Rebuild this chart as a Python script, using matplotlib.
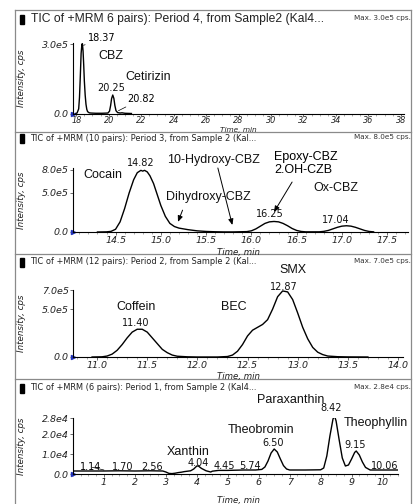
import matplotlib
matplotlib.use("Agg")
import matplotlib.pyplot as plt
from matplotlib.lines import Line2D
from matplotlib.patches import Rectangle
from matplotlib.ticker import MultipleLocator

W, H = 415, 504

# ---- data (intensities) ----
# period 4
t4 = [17.95, 18.05, 18.15, 18.20, 18.25, 18.30, 18.35, 18.38, 18.42, 18.46, 18.50, 18.55,
      18.60, 18.65, 18.70, 18.80, 18.90, 19.2, 19.6, 19.95, 20.05, 20.12, 20.18, 20.25,
      20.32, 20.38, 20.45, 20.55, 20.7, 20.82, 21.0, 21.4]
i4 = [0.0, 0.02, 0.2, 0.7, 1.6, 2.6, 3.0, 3.02, 2.7, 2.1, 1.4, 0.8, 0.4, 0.18, 0.08, 0.03,
      0.02, 0.01, 0.01, 0.02, 0.1, 0.35, 0.65, 0.8, 0.65, 0.35, 0.12, 0.04, 0.02, 0.03, 0.01, 0.0]
# period 3
t3 = [14.30, 14.40, 14.45, 14.50, 14.55, 14.60, 14.65, 14.70, 14.74, 14.78, 14.80, 14.82,
      14.85, 14.88, 14.92, 14.96, 15.00, 15.05, 15.10, 15.15, 15.20, 15.30, 15.40, 15.50,
      15.60, 15.70, 15.80, 15.95, 16.00, 16.05, 16.10, 16.15, 16.20, 16.25, 16.30, 16.35,
      16.40, 16.45, 16.50, 16.55, 16.60, 16.75, 16.80, 16.85, 16.90, 16.95, 17.00, 17.05,
      17.10, 17.15, 17.20, 17.25, 17.30, 17.35]
i3 = [0.0, 0.02, 0.08, 0.35, 1.3, 3.0, 5.0, 6.7, 7.6, 7.9, 7.8, 7.9, 7.7, 7.2, 6.2, 4.8,
      3.4, 2.0, 1.1, 0.7, 0.5, 0.3, 0.15, 0.07, 0.03, 0.01, 0.01, 0.05, 0.15, 0.4, 0.75,
      1.1, 1.3, 1.35, 1.3, 1.1, 0.8, 0.45, 0.2, 0.07, 0.02, 0.02, 0.08, 0.2, 0.4, 0.6, 0.75,
      0.8, 0.75, 0.6, 0.4, 0.2, 0.07, 0.02]
# period 2
t2 = [10.95, 11.05, 11.10, 11.15, 11.20, 11.25, 11.30, 11.35, 11.40, 11.45, 11.50, 11.55,
      11.60, 11.65, 11.70, 11.75, 11.80, 11.90, 12.00, 12.20, 12.30, 12.35, 12.40, 12.45,
      12.50, 12.55, 12.60, 12.65, 12.70, 12.75, 12.80, 12.85, 12.90, 12.95, 13.00, 13.05,
      13.10, 13.15, 13.20, 13.25, 13.30, 13.40, 13.50, 13.70]
i2 = [0.0, 0.02, 0.1, 0.3, 0.7, 1.3, 2.0, 2.6, 2.9, 2.9, 2.6, 2.0, 1.4, 0.8, 0.45, 0.2,
      0.08, 0.02, 0.0, 0.0, 0.05, 0.2, 0.6, 1.3, 2.2, 2.8, 3.1, 3.4, 3.9, 5.0, 6.3, 6.9,
      6.8, 6.0, 4.6, 3.1, 1.9, 1.0, 0.5, 0.25, 0.1, 0.03, 0.01, 0.0]
# period 1
t1 = [0.0, 0.5, 1.0, 1.5, 2.0, 2.5, 2.9, 3.0, 3.1, 3.2, 3.3, 3.4, 3.5, 3.6, 3.8, 3.9, 4.0,
      4.05, 4.15, 4.3, 4.45, 4.5, 4.7, 5.0, 5.5, 5.9, 6.1, 6.2, 6.3, 6.4, 6.5, 6.6, 6.7,
      6.8, 6.9, 7.0, 7.5, 8.0, 8.1, 8.2, 8.3, 8.4, 8.45, 8.5, 8.6, 8.7, 8.8, 8.9, 9.0,
      9.1, 9.15, 9.25, 9.35, 9.45, 9.6, 10.0, 10.5]
i1 = [0.15, 0.15, 0.15, 0.16, 0.15, 0.16, 0.15, 0.1, 0.03, 0.02, 0.04, 0.07, 0.09, 0.12,
      0.16, 0.25, 0.4, 0.4, 0.28, 0.16, 0.1, 0.14, 0.18, 0.18, 0.2, 0.2, 0.23, 0.35, 0.65,
      1.05, 1.25, 1.1, 0.75, 0.42, 0.25, 0.2, 0.2, 0.21, 0.3, 0.9, 1.9, 2.75, 2.9, 2.65,
      1.7, 0.8, 0.4, 0.45, 0.75, 1.08, 1.15, 0.95, 0.6, 0.33, 0.2, 0.2, 0.2]

titles = ["TIC of +MRM 6 pairs): Period 4, from Sample2 (Kal4...",
          "TIC of +MRM (10 pairs): Period 3, from Sample 2 (Kal...",
          "TIC of +MRM (12 pairs): Period 2, from Sample 2 (Kal...",
          "TIC of +MRM (6 pairs): Period 1, from Sample 2 (Kal4..."]
maxlabels = ["Max. 3.0e5 cps.", "Max. 8.0e5 cps.", "Max. 7.0e5 cps.", "Max. 2.8e4 cps."]

ytick_vals = [[0, 3.0e5], [0, 5.0e5, 8.0e5], [0, 5.0e5, 7.0e5], [0, 1.0e4, 2.0e4, 2.8e4]]
ytick_txt = [["0.0", "3.0e5"], ["0.0", "5.0e5", "8.0e5"], ["0.0", "5.0e5", "7.0e5"],
             ["0.0", "1.0e4", "2.0e4", "2.8e4"]]


def fx(px):
    return px / W


def fy(py):
    return 1 - py / H


fig = plt.figure(figsize=(W / 100, H / 100), dpi=100)
fig.patch.set_facecolor("white")

# panel frames
gray = "#8a8a8a"
for y in [10, 132, 254, 379]:
    fig.add_artist(Line2D([fx(15), fx(411)], [fy(y), fy(y)], transform=fig.transFigure,
                          color=gray, lw=0.9))
for x in [15, 411]:
    fig.add_artist(Line2D([fx(x), fx(x)], [fy(10), fy(504)], transform=fig.transFigure,
                          color=gray, lw=0.9))

# (left, top, right, bottom) px, xlim, ymax, major, minor, title y, big title?
panels = [
    (73, 43, 404, 113.5, (17.8, 38.2), 3.05e5, 2, 0.5, 19, True),
    (73, 168, 408, 232, (14.03, 17.73), 8.2e5, 0.5, 0.1, 138.5, False),
    (73, 290, 403, 357, (10.76, 14.05), 7.0e5, 0.5, 0.1, 262, False),
    (73, 418, 398, 474, (0, 10.5), 2.8e4, 1, 0.25, 388, False),
]
curves = [(t4, [v * 1e5 for v in i4]), (t3, [v * 1e5 for v in i3]),
          (t2, [v * 1e5 for v in i2]), (t1, [v * 1e4 for v in i1])]
xlab_y = [129.8, 252, 377, 500]
xlab_size = [5.3, 6.2, 6.2, 6.2]
tick_size = [5.9, 6.8, 6.8, 6.8]
tick_pad = [0.0, 0.8, 0.8, 0.8]
tick_len = [1.6, 2.2, 2.2, 2.2]

axes = []
for k, (l, t, r, b, xl, ymax, maj, mnr, ty, big) in enumerate(panels):
    ax = fig.add_axes([fx(l), fy(b), (r - l) / W, (b - t) / H])
    x, y = curves[k]
    ax.plot(x, y, color="black", lw=1.0)
    ax.set_xlim(*xl)
    ax.set_ylim(0, ymax)
    for s in ["top", "right"]:
        ax.spines[s].set_visible(False)
    for s in ["left", "bottom"]:
        ax.spines[s].set_linewidth(0.8)
    ax.xaxis.set_major_locator(MultipleLocator(maj))
    ax.xaxis.set_minor_locator(MultipleLocator(mnr))
    if k == 3:
        ax.set_xticks([1, 2, 3, 4, 5, 6, 7, 8, 9, 10])
        ax.set_xticklabels([str(v) for v in range(1, 11)])
    elif k == 0:
        ax.set_xticks(range(18, 39, 2))
        ax.set_xticklabels([str(v) for v in range(18, 39, 2)])
    else:
        ax.xaxis.set_major_formatter(lambda v, p: "%.1f" % v)
    ax.set_yticks(ytick_vals[k])
    ax.set_yticklabels(ytick_txt[k])
    ax.tick_params(which="major", length=tick_len[k], width=0.6, pad=tick_pad[k],
                   color="#555555", labelsize=tick_size[k])
    ax.tick_params(axis="y", pad=0.8, length=2.2, labelsize=6.8)
    ax.tick_params(which="minor", length=1.3, width=0.5, color="#888888")
    for lab in ax.get_xticklabels() + ax.get_yticklabels():
        lab.set_fontstyle("italic")
        lab.set_color("#222222")
    ax.plot([xl[0]], [0], marker=">", color="#2233bb", ms=3, clip_on=False)
    axes.append(ax)

    # header
    fig.add_artist(Rectangle((fx(20), fy(ty + 4.5)), 4 / W, 8.5 / H, transform=fig.transFigure,
                             color="black"))
    if big:
        fig.text(fx(31), fy(ty), titles[k], fontsize=8.7, family="Liberation Sans",
                 va="center", color="#222222")
    else:
        fig.text(fx(30), fy(ty), titles[k], fontsize=5.95, family="DejaVu Sans",
                 va="center", color="#222222")
    fig.text(fx(411), fy(ty - 1), maxlabels[k], fontsize=5.2, family="DejaVu Sans",
             ha="right", va="center", color="#333333")
    fig.text(fx(22), fy((t + b) / 2), "Intensity, cps", rotation=90, fontsize=6.3,
             style="italic", ha="center", va="center", color="#222222")
    fig.text(fx(238), fy(xlab_y[k]), "Time, min", fontsize=xlab_size[k],
             style="italic", ha="center", va="center", color="#222222")

name_kw = dict(fontsize=9, family="Liberation Sans", ha="center", va="center",
               color="#111111", annotation_clip=False)
num_kw = dict(fontsize=7, family="DejaVu Sans", ha="center", va="center",
              color="#111111", annotation_clip=False)

# period 4
ax = axes[0]
ax.annotate("18.37", xy=(18.45, 2.95e5), xytext=(18.72, 3.25e5), ha="left", va="center",
            fontsize=7, family="DejaVu Sans", annotation_clip=False,
            arrowprops=dict(arrowstyle="-", lw=0.5, shrinkA=0, shrinkB=0))
ax.annotate("CBZ", xy=(20.15, 2.47e5), **name_kw)
ax.annotate("Cetirizin", xy=(22.43, 1.6e5), **name_kw)
ax.annotate("20.25", xy=(20.15, 1.11e5), **num_kw)
ax.annotate("20.82", xy=(20.6, 0.12e5), xytext=(21.15, 0.62e5), ha="left", va="center",
            fontsize=7, family="DejaVu Sans", annotation_clip=False,
            arrowprops=dict(arrowstyle="-", lw=0.5, shrinkA=0, shrinkB=0))

# period 3
ax = axes[1]
ax.annotate("Cocain", xy=(14.36, 7.3e5), **name_kw)
ax.annotate("14.82", xy=(14.78, 8.85e5), **num_kw)
ax.annotate("10-Hydroxy-CBZ", xy=(15.58, 9.2e5), **name_kw)
ax.annotate("Dihydroxy-CBZ", xy=(15.52, 4.5e5), **name_kw)
ax.annotate("Epoxy-CBZ\n2.OH-CZB", xy=(16.25, 8.8e5), fontsize=9, family="Liberation Sans",
            ha="left", va="center", linespacing=1.05, annotation_clip=False)
ax.annotate("Ox-CBZ", xy=(16.93, 5.6e5), **name_kw)
ax.annotate("16.25", xy=(16.2, 2.3e5), **num_kw)
ax.annotate("17.04", xy=(16.93, 1.55e5), **num_kw)
arrow = dict(arrowstyle="-|>,head_length=0.35,head_width=0.15", lw=0.7, color="black",
             shrinkA=0, shrinkB=0)
ax.annotate("", xy=(15.19, 1.3e5), xytext=(15.24, 2.8e5), arrowprops=arrow)
ax.annotate("", xy=(15.79, 0.9e5), xytext=(15.63, 8.2e5), arrowprops=arrow,
            annotation_clip=False)
ax.annotate("", xy=(16.25, 2.56e5), xytext=(16.45, 6.4e5), arrowprops=arrow)

# period 2
ax = axes[2]
ax.annotate("SMX", xy=(12.95, 9.1e5), **name_kw)
ax.annotate("12.87", xy=(12.86, 7.3e5), **num_kw)
ax.annotate("Coffein", xy=(11.39, 5.2e5), **name_kw)
ax.annotate("BEC", xy=(12.36, 5.2e5), **name_kw)
ax.annotate("11.40", xy=(11.39, 3.55e5), **num_kw)

# period 1
ax = axes[3]
ax.annotate("Paraxanthin", xy=(7.03, 3.7e4), **name_kw)
ax.annotate("8.42", xy=(8.35, 3.3e4), **num_kw)
ax.annotate("Theophyllin", xy=(9.77, 2.55e4), **name_kw)
ax.annotate("Theobromin", xy=(6.06, 2.2e4), **name_kw)
ax.annotate("6.50", xy=(6.45, 1.55e4), **num_kw)
ax.annotate("9.15", xy=(9.1, 1.45e4), **num_kw)
ax.annotate("Xanthin", xy=(3.71, 1.1e4), **name_kw)
ax.annotate("4.04", xy=(4.06, 0.55e4), **num_kw)
ax.annotate("4.45", xy=(4.9, 0.4e4), **num_kw)
ax.annotate("5.74", xy=(5.71, 0.4e4), **num_kw)
ax.annotate("1.14", xy=(1.0, 0.2e4), xytext=(0.58, 0.35e4), ha="center", va="center",
            fontsize=7, family="DejaVu Sans", annotation_clip=False,
            arrowprops=dict(arrowstyle="-", lw=0.5, shrinkA=1, shrinkB=0))
ax.annotate("1.70", xy=(1.61, 0.35e4), **num_kw)
ax.annotate("2.56", xy=(2.55, 0.35e4), **num_kw)
ax.annotate("10.06", xy=(10.06, 0.4e4), **num_kw)

fig.savefig("out.png", dpi=100)
